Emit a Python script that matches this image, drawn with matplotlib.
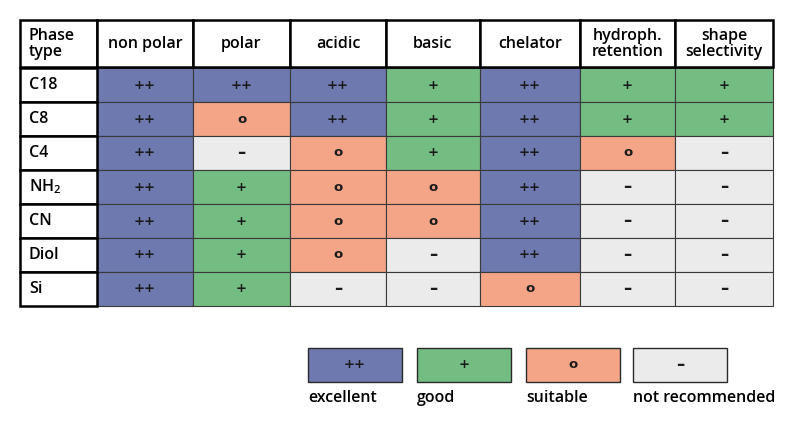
import matplotlib.pyplot as plt
from matplotlib.patches import Rectangle

plt.rcParams['font.family'] = ['Open Sans', 'DejaVu Sans']
plt.rcParams['mathtext.default'] = 'regular'

# table content
columns = ['non polar', 'polar', 'acidic', 'basic', 'chelator',
           'hydroph.\nretention', 'shape\nselectivity']
phases = ['C18', 'C8', 'C4', 'NH$_2$', 'CN', 'Diol', 'Si']
ratings = [
    ['++', '++', '++', '+', '++', '+', '+'],
    ['++', 'o', '++', '+', '++', '+', '+'],
    ['++', '–', 'o', '+', '++', 'o', '–'],
    ['++', '+', 'o', 'o', '++', '–', '–'],
    ['++', '+', 'o', 'o', '++', '–', '–'],
    ['++', '+', 'o', '–', '++', '–', '–'],
    ['++', '+', '–', '–', 'o', '–', '–'],
]
grades = ['++', '+', 'o', '–']
grade_names = ['excellent', 'good', 'suitable', 'not recommended']
grade_colors = {'++': '#6d79af', '+': '#74bd82', 'o': '#f4a588', '–': '#ebebeb'}

# layout in pixels
col_edges = [20, 97, 193, 290, 386, 480, 580, 675, 773]
head_top, head_bot = 20, 67
row_h = 34
lab_kw = dict(fontsize=11.5, fontweight='semibold', zorder=4)


def symbol(ax, x, y, g):
    # the dash reads wider in the original, so draw it a bit larger
    size = 12 if g == '–' else 9.5
    ax.text(x, y, g, ha='center', va='center', fontsize=size, fontweight='bold',
            family='DejaVu Sans', color='#1a1a1a', zorder=2)


fig = plt.figure(figsize=(8, 4.25), dpi=100)
ax = fig.add_axes([0, 0, 1, 1])
ax.set_xlim(0, 800)
ax.set_ylim(425, 0)
ax.axis('off')

# coloured cells
for i, row in enumerate(ratings):
    y0 = head_bot + 1 + i * row_h
    for j, g in enumerate(row):
        x0, x1 = col_edges[j + 1], col_edges[j + 2]
        ax.add_patch(Rectangle((x0, y0), x1 - x0, row_h, facecolor=grade_colors[g],
                               edgecolor='#3a3a3a', lw=0.8))
        symbol(ax, (x0 + x1) / 2, y0 + row_h / 2, g)

# phase column
for i, p in enumerate(phases):
    y0 = head_bot + 1 + i * row_h
    ax.add_patch(Rectangle((col_edges[0], y0), col_edges[1] - col_edges[0], row_h,
                           facecolor='white', edgecolor='black', lw=1.8, zorder=3))
    ax.text(col_edges[0] + 9, y0 + row_h / 2, p, ha='left', va='center', **lab_kw)

# header row
ax.add_patch(Rectangle((col_edges[0], head_top), col_edges[1] - col_edges[0],
                       head_bot - head_top, facecolor='white', edgecolor='black',
                       lw=1.8, zorder=3))
ax.text(col_edges[0] + 9, (head_top + head_bot) / 2, 'Phase\ntype', ha='left',
        va='center', linespacing=1.0, **lab_kw)
for j, c in enumerate(columns):
    x0, x1 = col_edges[j + 1], col_edges[j + 2]
    ax.add_patch(Rectangle((x0, head_top), x1 - x0, head_bot - head_top,
                           facecolor='white', edgecolor='black', lw=1.8, zorder=3))
    ax.text((x0 + x1) / 2, (head_top + head_bot) / 2, c, ha='center', va='center',
            linespacing=1.0, **lab_kw)

# legend
leg_x = [308, 417, 526, 633]
for x, g, name in zip(leg_x, grades, grade_names):
    ax.add_patch(Rectangle((x, 348), 94, 34, facecolor=grade_colors[g],
                           edgecolor='#2a2a2a', lw=1.0))
    symbol(ax, x + 47, 365, g)
    ax.text(x, 398, name, ha='left', va='center', fontsize=11.5, fontweight='semibold')

fig.savefig('out.png', dpi=100)
